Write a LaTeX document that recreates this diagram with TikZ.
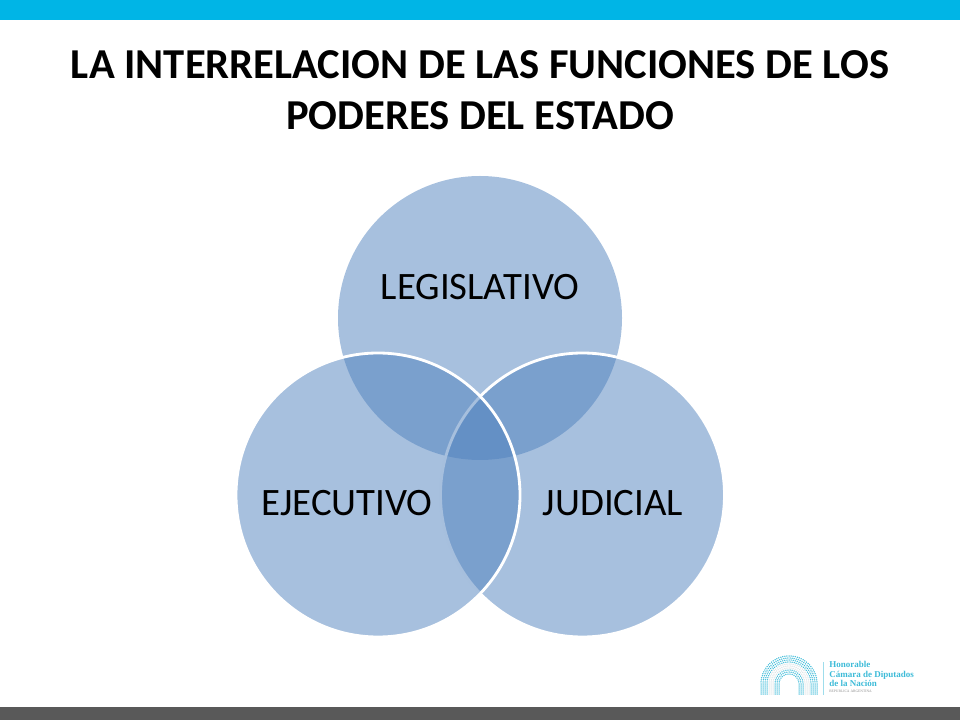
\documentclass[tikz,border=0pt]{standalone}
\usepackage{fontspec}
\setmainfont{Carlito}
\newfontfamily\logofont{Liberation Serif}
\usepackage{tikz}
\usetikzlibrary{positioning}
\definecolor{bandcyan}{HTML}{00B5E6}
\definecolor{bandgrey}{HTML}{595959}
\definecolor{petalblue}{HTML}{4F81BD}
\definecolor{logocyan}{HTML}{3DBBD8}
\definecolor{logopale}{HTML}{DCE3E6}
\tikzset{
    petal/.style={circle, minimum size=284*0.025cm, inner sep=0pt, fill=petalblue, fill opacity=0.5},
    petaledge/.style={circle, minimum size=284*0.025cm, inner sep=0pt, draw=white, line width=2pt},
    petaltext/.style={font=\fontsize{27.6}{32}\selectfont, text=black},
    logotext/.style={font=\fontsize{6.4}{6.8}\selectfont\bfseries\logofont, text=logocyan, align=left, inner sep=0pt}
}
\begin{document}
\begin{tikzpicture}[x=0.025cm, y=-0.025cm]
    \useasboundingbox (0,0) rectangle (960,720);
    \fill [bandcyan] (0,0) rectangle (960,20);
    \fill [bandgrey] (0,707) rectangle (960,720);

    \node [align=center, font=\fontsize{30.3}{36}\selectfont\bfseries] (title) at (480,90) {LA INTERRELACION DE LAS FUNCIONES DE LOS\\PODERES DEL ESTADO};

    \node [petal] (L) at (480,318) {};
    \node [petal] (J) at (582.5,495) {};
    \node [petaledge] (Jedge) at (582.5,495) {};
    \node [petal] (E) at (378,495) {};
    \node [petaledge] (Eedge) at (378,495) {};

    \node [petaltext] (Ltext) at (480,287) {LEGISLATIVO};
    \node [petaltext] (Etext) at (347,503) {EJECUTIVO};
    \node [petaltext] (Jtext) at (613,503) {JUDICIAL};

    % logo
    \foreach \rad/\col in {10/logocyan,12/logocyan,14/logocyan,16/logopale,18/logopale,20/logopale,22/logocyan,24/logocyan,26/logocyan,28/logocyan} {
        \pgfmathtruncatemacro{\ndots}{\rad*1.5}
        \foreach \i in {0,...,\ndots} {
            \fill [\col] ({789+\rad*cos(180*\i/\ndots)},{684-\rad*sin(180*\i/\ndots)}) circle (0.75);
        }
        \foreach \dy in {2,4,6,8,10} {
            \fill [\col] ({789-\rad},{684+\dy}) circle (0.75);
            \fill [\col] ({789+\rad},{684+\dy}) circle (0.75);
        }
    }
    \draw [logocyan!50, line width=0.4pt] (823,662) -- (823,695);
    \node [logotext, anchor=north west] (logoname) at (829,661) {Honorable\\Cámara de Diputados\\de la Nación};
    \node [font=\fontsize{2.6}{3}\selectfont\logofont, text=black!45, inner sep=0pt, below right=2pt and 0pt of logoname.south west] (logocountry) {REPUBLICA ARGENTINA};
\end{tikzpicture}
\end{document}
